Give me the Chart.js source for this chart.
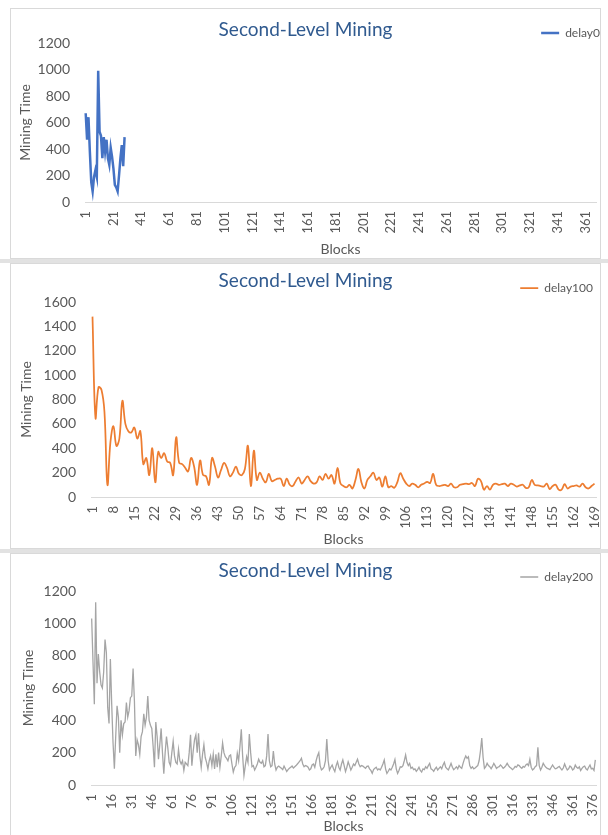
<!DOCTYPE html>
<html>
<head>
<meta charset="utf-8">
<script src="https://cdn.jsdelivr.net/npm/chart.js@4.4.1/dist/chart.umd.min.js"></script>
<style>
  html, body { margin: 0; padding: 0; background: #fff; }
  body { width: 608px; height: 835px; position: relative; overflow: hidden; }
  .band { position: absolute; left: 0; width: 608px; background: #e2e2e2; }
  .panel { position: absolute; left: 10px; width: 591px; box-sizing: border-box; border: 1px solid #d9d9d9; background: #fff; }
  canvas { position: absolute; left: 10px; }
</style>
</head>
<body>
<div class="band" style="top:259px;height:4px"></div>
<div class="band" style="top:549px;height:4px"></div>
<div class="panel" style="top:8px;height:251px"></div>
<div class="panel" style="top:263px;height:286px"></div>
<div class="panel" style="top:553px;height:290px"></div>
<canvas id="chart0" width="591" height="250" style="top:8px"></canvas>
<canvas id="chart100" width="591" height="286" style="top:263px"></canvas>
<canvas id="chart200" width="591" height="282" style="top:553px"></canvas>
<script>
// mining time per block
const delay0Times = [670, 470, 640, 380, 150, 80, 190, 240, 190, 990,
  530, 500, 330, 490, 380, 470, 330, 280, 410, 340,
  250, 130, 110, 80, 200, 330, 430, 270, 490];

const delay100Times = [1480, 650, 900, 880, 700, 100, 450, 580, 420, 480,
  790, 600, 540, 530, 570, 480, 540, 270, 320, 180,
  400, 120, 370, 320, 360, 290, 280, 180, 490, 280,
  270, 240, 210, 320, 250, 100, 300, 180, 170, 100,
  320, 250, 160, 220, 280, 240, 170, 200, 250, 190,
  180, 230, 420, 90, 380, 140, 200, 150, 120, 190,
  130, 140, 150, 150, 90, 150, 100, 90, 130, 160,
  110, 140, 170, 130, 110, 120, 170, 140, 190, 150,
  180, 110, 240, 110, 90, 80, 100, 70, 140, 230,
  120, 70, 140, 170, 200, 140, 160, 85, 170, 80,
  90, 75, 120, 195, 150, 110, 90, 110, 100, 80,
  100, 110, 125, 115, 190, 100, 90, 95, 100, 90,
  110, 80, 80, 100, 105, 110, 105, 115, 90, 150,
  130, 60, 90, 60, 100, 110, 100, 105, 110, 90,
  110, 100, 85, 95, 100, 75, 80, 140, 100, 95,
  90, 85, 110, 65, 90, 100, 60, 60, 105, 70,
  85, 90, 95, 85, 110, 80, 70, 90, 110];

const delay200Times = [1030, 760, 500, 1130, 630, 810, 700, 620, 600, 700, 900, 820, 480, 380, 780, 500, 260, 100, 300, 490,
  420, 200, 400, 310, 380, 390, 510, 420, 460, 540, 550, 720, 520, 180, 280, 250, 190, 300, 330, 440,
  370, 420, 550, 400, 370, 350, 240, 110, 390, 300, 160, 250, 350, 200, 70, 200, 300, 230, 140, 120,
  200, 270, 180, 140, 130, 220, 150, 130, 150, 90, 140, 130, 120, 200, 310, 120, 210, 280, 310, 200,
  320, 180, 110, 190, 250, 170, 140, 100, 150, 180, 120, 190, 100, 190, 110, 200, 110, 180, 260, 200,
  175, 165, 150, 180, 186, 130, 80, 110, 120, 196, 150, 240, 345, 180, 60, 120, 175, 140, 315, 200,
  113, 120, 93, 110, 130, 160, 140, 134, 150, 113, 120, 180, 315, 150, 113, 120, 210, 130, 93, 110,
  117, 110, 103, 95, 117, 100, 83, 95, 103, 110, 117, 105, 113, 120, 130, 140, 150, 165, 130, 113,
  120, 117, 110, 93, 100, 124, 130, 110, 150, 180, 200, 120, 93, 100, 113, 150, 285, 150, 93, 110,
  124, 100, 83, 120, 144, 110, 93, 130, 155, 120, 83, 110, 144, 120, 93, 110, 130, 120, 140, 160,
  130, 113, 120, 117, 110, 103, 115, 117, 100, 90, 72, 95, 103, 110, 93, 100, 93, 110, 130, 155,
  100, 72, 85, 100, 93, 110, 130, 158, 100, 72, 90, 113, 110, 120, 150, 186, 140, 120, 134, 103,
  110, 95, 100, 85, 95, 110, 90, 80, 100, 95, 113, 103, 120, 134, 100, 95, 85, 100, 110, 93,
  103, 113, 100, 124, 140, 110, 100, 93, 113, 134, 110, 95, 103, 113, 100, 120, 110, 103, 134, 160,
  180, 165, 175, 120, 103, 113, 100, 105, 113, 120, 150, 210, 290, 170, 103, 113, 134, 120, 113, 100,
  115, 134, 120, 103, 110, 113, 124, 115, 103, 110, 120, 134, 120, 110, 103, 95, 103, 115, 110, 124,
  120, 110, 103, 115, 110, 124, 130, 120, 159, 110, 93, 100, 113, 120, 233, 120, 93, 110, 134, 120,
  110, 103, 100, 95, 110, 124, 110, 100, 103, 110, 115, 103, 93, 105, 130, 110, 93, 100, 117, 110,
  93, 100, 124, 110, 103, 113, 90, 103, 113, 117, 100, 93, 110, 124, 100, 103, 90, 155];

// block numbers on the x axis (the axes run longer than some series)
const blocks0 = Array.from({length: 368}, (_, i) => String(i + 1));
const blocks100 = Array.from({length: 169}, (_, i) => String(i + 1));
const blocks200 = Array.from({length: 378}, (_, i) => String(i + 1));

const FONT = 'Lato';
const GREY = '#595959';

// squeeze the legend so it sits on the title row like in Excel
function legendHeight(h) {
  return {
    id: 'legendHeight',
    beforeLayout(chart) {
      const lg = chart.legend;
      if (lg && !lg.heightFixed) {
        const fit = lg.fit;
        lg.fit = function () { fit.call(this); this.height = h; };
        lg.heightFixed = true;
      }
    }
  };
}

function miningChart(id, o) {
  return new Chart(document.getElementById(id), {
    type: 'line',
    data: {
      labels: o.labels,
      datasets: [{
        label: o.name,
        data: o.values,
        borderColor: o.color,
        backgroundColor: o.color,
        borderWidth: o.width,
        tension: o.tension,
        pointRadius: 0,
        fill: false
      }]
    },
    options: {
      responsive: false,
      animation: false,
      scales: {
        x: {
          offset: true,
          grid: { display: false, drawTicks: false },
          border: { display: true, color: '#d9d9d9', width: 1 },
          ticks: {
            autoSkip: false,
            minRotation: 90,
            maxRotation: 90,
            padding: 9,
            color: GREY,
            font: { family: FONT, size: 13 },
            callback: (v, i) => (i % o.step === 0 ? o.labels[i] : null)
          },
          title: {
            display: true, text: 'Blocks', color: GREY,
            font: { family: FONT, size: 14 },
            padding: { top: 0, bottom: o.xTitlePad }
          },
          afterFit: s => {
            s.height = o.xHeight;
            s.paddingLeft = 0;
            s.paddingRight = 5;
          }
        },
        y: {
          min: 0,
          max: o.yMax,
          grid: { display: false, drawTicks: false },
          border: { display: false },
          ticks: {
            stepSize: 200, padding: 15, color: GREY,
            font: { family: FONT, size: 14 },
            callback: v => String(v)
          },
          title: {
            display: true, text: 'Mining Time', color: GREY,
            font: { family: FONT, size: 14 },
            padding: { top: o.yTitlePad, bottom: 0 }
          },
          afterFit: s => { s.width = o.yWidth; }
        }
      },
      plugins: {
        title: {
          display: true,
          text: 'Second-Level Mining',
          color: '#305A8F',
          font: { family: FONT, size: 19, weight: 'normal' },
          padding: { top: o.titleTop, bottom: o.titleBottom }
        },
        legend: {
          position: 'top',
          align: 'end',
          labels: {
            boxWidth: 18,
            boxHeight: 0,
            padding: o.legendPad,
            color: GREY,
            font: { family: FONT, size: 12 }
          }
        },
        tooltip: { enabled: false }
      }
    },
    plugins: [legendHeight(o.legendHeight)]
  });
}

miningChart('chart0', {
  name: 'delay0', labels: blocks0, values: delay0Times, color: '#4472C4',
  width: 2.5, tension: 0, step: 20, yMax: 1200,
  yWidth: 75, yTitlePad: 6.6, xHeight: 56, xTitlePad: 0,
  titleTop: 10, titleBottom: -14.8, legendPad: 1, legendHeight: 17
});

miningChart('chart100', {
  name: 'delay100', labels: blocks100, values: delay100Times, color: '#ED7D31',
  width: 1.75, tension: 0.4, step: 7, yMax: 1600,
  yWidth: 81, yTitlePad: 8.3, xHeight: 52, xTitlePad: 1.6,
  titleTop: 6, titleBottom: -17.8, legendPad: 8, legendHeight: 28
});

miningChart('chart200', {
  name: 'delay200', labels: blocks200, values: delay200Times, color: '#A5A5A5',
  width: 1.3, tension: 0, step: 15, yMax: 1200,
  yWidth: 81, yTitlePad: 10, xHeight: 50, xTitlePad: 0,
  titleTop: 6, titleBottom: -18.8, legendPad: 8, legendHeight: 28
});
</script>
</body>
</html>
